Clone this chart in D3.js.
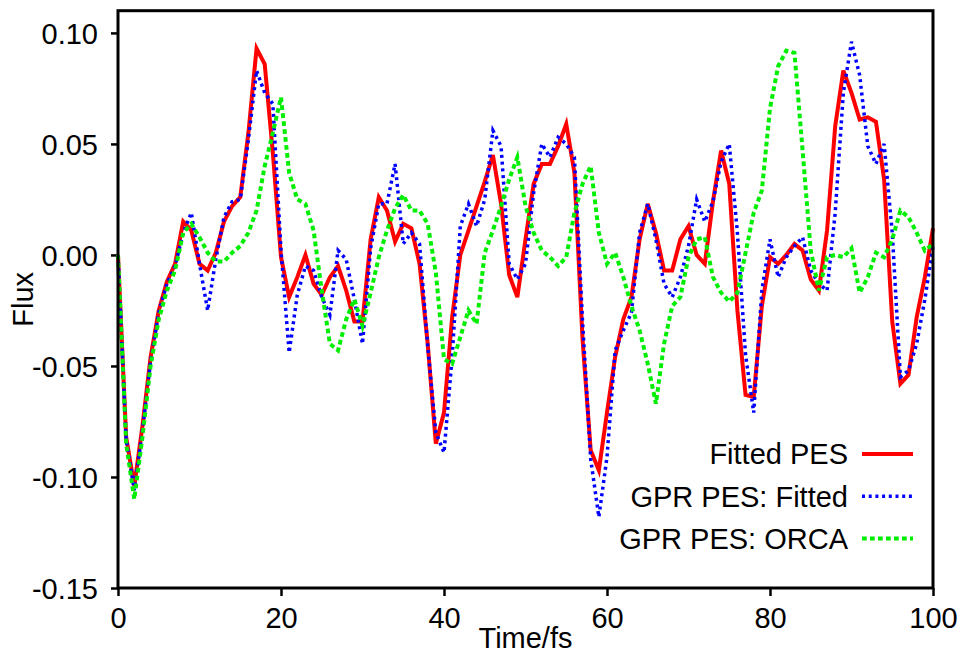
<!DOCTYPE html>
<html>
<head>
<meta charset="utf-8">
<script src="https://cdn.jsdelivr.net/npm/d3@7"></script>
<style>
	body { margin: 0; background: #fff; }
	svg text { font-family: "Liberation Sans", Arial, sans-serif; font-size: 29px; fill: #000; }
</style>
</head>
<body>
<svg id="chart" width="964" height="655"></svg>
<script>
"use strict";

// time axis, one frame per fs
var times = d3.range(0, 101);

var fittedPes = [
	0, -0.082, -0.104, -0.077, -0.046, -0.025, -0.012, -0.004, 0.015, 0.011,
	-0.004, -0.007, 0.001, 0.015, 0.022, 0.026, 0.055, 0.093, 0.086, 0.046,
	-0.001, -0.019, -0.010, 0.000, -0.013, -0.018, -0.010, -0.005, -0.016, -0.030,
	-0.030, 0.007, 0.026, 0.020, 0.006, 0.014, 0.012, -0.004, -0.040, -0.085,
	-0.071, -0.028, 0.000, 0.011, 0.022, 0.033, 0.045, 0.023, -0.009, -0.019,
	0.007, 0.032, 0.041, 0.041, 0.049, 0.059, 0.037, -0.038, -0.088, -0.097,
	-0.071, -0.046, -0.029, -0.019, 0.007, 0.023, 0.010, -0.007, -0.007, 0.007,
	0.013, 0.000, -0.004, 0.024, 0.047, 0.032, -0.025, -0.063, -0.064, -0.023,
	-0.001, -0.004, 0.000, 0.005, 0.002, -0.011, -0.016, 0.011, 0.058, 0.083,
	0.073, 0.061, 0.062, 0.060, 0.034, -0.030, -0.058, -0.054, -0.028, -0.010,
	0.012
];

var gprFitted = [
	0, -0.083, -0.106, -0.079, -0.048, -0.026, -0.013, -0.005, 0.010, 0.019,
	-0.004, -0.025, -0.002, 0.017, 0.024, 0.025, 0.052, 0.083, 0.073, 0.068,
	0.002, -0.044, -0.018, -0.005, -0.007, -0.019, -0.027, 0.002, -0.002, -0.020,
	-0.040, 0.003, 0.023, 0.023, 0.041, 0.005, 0.010, 0.005, -0.041, -0.080,
	-0.089, -0.046, 0.013, 0.023, 0.013, 0.025, 0.056, 0.049, -0.004, -0.011,
	-0.004, 0.028, 0.050, 0.044, 0.053, 0.050, 0.044, -0.030, -0.092, -0.118,
	-0.091, -0.043, -0.034, -0.026, 0.010, 0.023, 0.007, -0.013, -0.019, -0.010,
	0.004, 0.025, 0.015, 0.024, 0.042, 0.050, 0.010, -0.045, -0.071, -0.016,
	0.007, -0.010, -0.001, 0.004, 0.008, -0.007, -0.013, -0.016, 0.019, 0.073,
	0.096, 0.081, 0.049, 0.041, 0.050, 0.010, -0.055, -0.052, -0.040, -0.020,
	0.004
];

var gprOrca = [
	0, -0.085, -0.110, -0.082, -0.050, -0.029, -0.016, -0.007, 0.010, 0.014,
	0.008, 0.001, -0.003, -0.003, 0.001, 0.004, 0.010, 0.020, 0.040, 0.055,
	0.071, 0.037, 0.025, 0.023, 0.011, -0.016, -0.040, -0.043, -0.029, -0.020,
	-0.032, -0.017, -0.001, 0.011, 0.021, 0.027, 0.020, 0.020, 0.014, -0.008,
	-0.047, -0.049, -0.037, -0.025, -0.031, 0.001, 0.011, 0.022, 0.034, 0.044,
	0.022, 0.010, 0.002, -0.001, -0.005, -0.001, 0.019, 0.032, 0.040, 0.010,
	-0.004, 0.001, -0.010, -0.023, -0.034, -0.049, -0.067, -0.040, -0.023, -0.019,
	-0.001, 0.007, 0.008, -0.010, -0.017, -0.021, -0.017, 0.001, 0.019, 0.029,
	0.066, 0.085, 0.092, 0.091, 0.047, 0.002, -0.016, -0.001, 0.000, -0.001,
	0.003, -0.017, -0.010, 0.001, -0.001, 0.007, 0.020, 0.017, 0.010, 0.002,
	0.005
];

var xTicks = [0, 20, 40, 60, 80, 100];
var yTicks = [-0.15, -0.10, -0.05, 0.00, 0.05, 0.10];

var seriesNames = ["Fitted PES", "GPR PES: Fitted", "GPR PES: ORCA"];
var seriesColors = ["#ff0000", "#0000ff", "#00ee00"];
var seriesDash = [null, "3,3.7", "4.7,3.3"];
var seriesWidth = [4, 3.5, 4];

var svg = d3.select("#chart");
var plotLeft = 118, plotRight = 933, plotTop = 10.7, plotBottom = 588;

var x = d3.scaleLinear().domain([0, 100]).range([plotLeft, plotRight]);
var y = d3.scaleLinear().domain([-0.15, 0.11]).range([plotBottom, plotTop]);

// plain hyphen for negatives, like the original plot
var fmt2 = d3.format(".2f");
function yFormat(v) { return fmt2(v).replace("\u2212", "-"); }

// Axes: ticks only on the left and bottom, pointing outward
var xAxis = svg.append("g").attr("transform", "translate(0," + plotBottom + ")")
	.call(d3.axisBottom(x).tickValues(xTicks).tickSize(8).tickPadding(4).tickFormat(d3.format("d")));
var yAxis = svg.append("g").attr("transform", "translate(" + plotLeft + ",0)")
	.call(d3.axisLeft(y).tickValues(yTicks).tickSize(7).tickPadding(13).tickFormat(yFormat));

[xAxis, yAxis].forEach(function(ax) {
	ax.select(".domain").remove();
	ax.selectAll(".tick line").attr("stroke", "#000").attr("stroke-width", 2.5);
	ax.attr("font-size", null).attr("font-family", null);
});
xAxis.selectAll(".tick text").attr("dy", "0.95em");
yAxis.selectAll(".tick text").attr("dy", "0.36em");

// Data lines
var line = d3.line().x(function(d) { return x(d[0]); }).y(function(d) { return y(d[1]); });
[fittedPes, gprFitted, gprOrca].forEach(function(vals, i) {
	svg.append("path")
		.datum(times.map(function(t, k) { return [t, vals[k]]; }))
		.attr("d", line)
		.attr("fill", "none")
		.attr("stroke", seriesColors[i])
		.attr("stroke-width", seriesWidth[i])
		.attr("stroke-dasharray", seriesDash[i])
		.attr("stroke-linejoin", "miter");
});

// Frame
svg.append("rect").attr("x", plotLeft).attr("y", plotTop)
	.attr("width", plotRight - plotLeft).attr("height", plotBottom - plotTop)
	.attr("fill", "none").attr("stroke", "#000").attr("stroke-width", 3);

// Axis titles
svg.append("text").attr("x", (plotLeft + plotRight) / 2).attr("y", 648)
	.style("text-anchor", "middle").text("Time/fs");
svg.append("text").attr("transform", "translate(33," + ((plotTop + plotBottom) / 2) + ") rotate(-90)")
	.style("text-anchor", "middle").text("Flux");

// Legend, bottom right
var legend = svg.append("g");
seriesNames.forEach(function(name, i) {
	var ly = 454 + i * 42.2;
	legend.append("text").attr("x", 848).attr("y", ly).attr("dy", "0.36em")
		.style("text-anchor", "end").text(name);
	legend.append("line").attr("x1", 862).attr("x2", 913).attr("y1", ly).attr("y2", ly)
		.attr("stroke", seriesColors[i]).attr("stroke-width", seriesWidth[i])
		.attr("stroke-dasharray", seriesDash[i]);
});
</script>
</body>
</html>
